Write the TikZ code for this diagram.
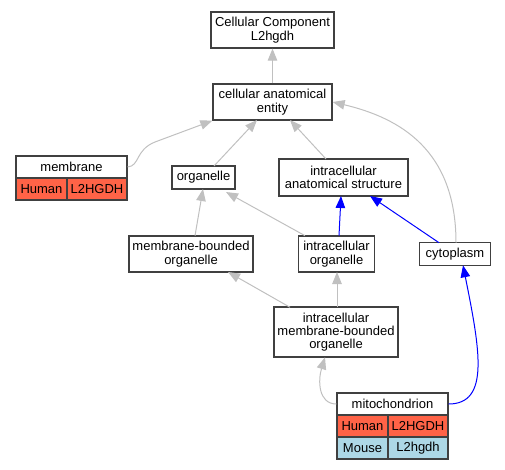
\documentclass[tikz,border=0pt]{standalone}
\usepackage{fontspec}
\setmainfont{Liberation Sans}
\usetikzlibrary{arrows.meta}
\definecolor{edgegray}{HTML}{C0C0C0}
\definecolor{boxline}{HTML}{404040}
\definecolor{human}{HTML}{FF6347}
\definecolor{mouse}{HTML}{ADD8E6}
\tikzset{
  box/.style={draw=boxline, line width=1.3pt, fill=white, inner sep=0pt, align=center, font=\fontsize{13}{13.3}\selectfont},
  cell/.style={draw=boxline, line width=1.1pt, inner sep=0pt, align=center, minimum height=22pt, font=\fontsize{13}{13.3}\selectfont},
  isa/.style={draw=edgegray, line width=1pt, -{Triangle[length=12pt,width=9.5pt]}},
  partof/.style={draw=blue, line width=1pt, -{Triangle[length=12pt,width=9.5pt]}},
}
\begin{document}
\begin{tikzpicture}[x=1pt,y=-1pt]
\useasboundingbox (0,0) rectangle (505,469);
\node[box, minimum width=123pt, minimum height=36pt] (cc) at (272.5,30) {Cellular Component\\L2hgdh};
\node[box, minimum width=119pt, minimum height=36pt] (cae) at (272.5,102) {cellular anatomical\\entity};
\node[box, minimum width=63pt, minimum height=23pt] (org) at (203.5,177.5) {organelle};
\node[box, minimum width=129pt, minimum height=37pt] (ias) at (343.5,177.5) {intracellular\\anatomical structure};
\node[box, minimum width=124pt, minimum height=36pt] (mbo) at (191,254) {membrane-bounded\\organelle};
\node[box, minimum width=76pt, minimum height=36pt] (io) at (336.5,254) {intracellular\\organelle};
\node[box, minimum width=71pt, minimum height=23pt] (cyto) at (455,254) {cytoplasm};
\node[box, minimum width=124pt, minimum height=50pt] (imbo) at (336,332) {intracellular\\membrane-bounded\\organelle};
% membrane table
\node[cell, fill=white, minimum width=111pt] (mem) at (71.5,167) {membrane};
\node[cell, fill=human, minimum width=51pt] (memh) at (41.5,189) {Human};
\node[cell, fill=human, minimum width=60pt] (memg) at (97,189) {L2HGDH};
\draw[boxline, line width=1.3pt] (16,156) rectangle (127,200);
% mitochondrion table
\node[cell, fill=white, minimum width=111pt] (mito) at (392.5,404) {mitochondrion};
\node[cell, fill=human, minimum width=51pt] (mitoh) at (362.5,426) {Human};
\node[cell, fill=human, minimum width=60pt] (mitog) at (418,426) {L2HGDH};
\node[cell, fill=mouse, minimum width=51pt] (mitom) at (362.5,448) {Mouse};
\node[cell, fill=mouse, minimum width=60pt] (mitomg) at (418,448) {L2hgdh};
\draw[boxline, line width=1.3pt] (337,393) rectangle (448,459);
% edges
\draw[isa] (cae.north) -- (cc.south);
\draw[isa] (mem.east) .. controls (140,166) and (135,150) .. (155,142) -- (cae.south west);
\draw[isa] (214,166) -- (257,120);
\draw[isa] (326,159) -- (290,120);
\draw[isa] (456,242.7) .. controls (456,150) and (400,118) .. (cae.east);
\draw[isa] (195,235.7) -- (203,189);
\draw[isa] (305,235.7) -- (226,192);
\draw[partof] (339,235.7) -- (341,196);
\draw[partof] (439,242.7) -- (370,196);
\draw[isa] (290,307.3) -- (228,272);
\draw[isa] (337,307.3) -- (337,272);
\draw[isa] (mito.west) .. controls (318,404) and (318,380) .. (325,357.3);
\draw[partof] (mito.east) .. controls (490,404) and (480,350) .. (463,265.3);
\end{tikzpicture}
\end{document}
